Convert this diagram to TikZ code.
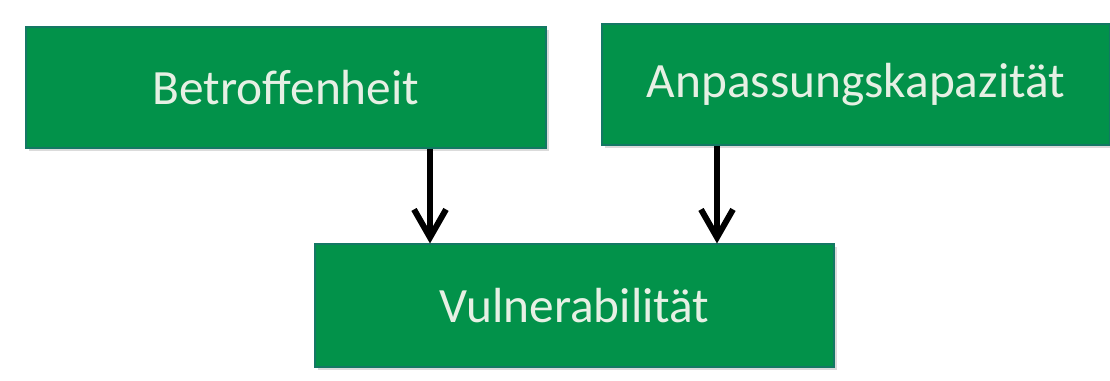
\documentclass[tikz,border=0pt]{standalone}
\usepackage{fontspec}
\setmainfont{Carlito}
\usetikzlibrary{arrows.meta}
\definecolor{boxgreen}{RGB}{2,146,74}
\definecolor{boxedge}{RGB}{20,120,100}
\definecolor{boxtext}{RGB}{230,240,228}
\tikzset{
  greenbox/.style={draw=boxedge, line width=0.8pt, fill=boxgreen, text=boxtext,
    inner sep=0pt, font=\fontsize{37}{42}\selectfont},
  flowarrow/.style={draw=black, line width=4.5pt,
    -{Straight Barb[length=21pt, width=24pt, line width=4.5pt]}}
}
\begin{document}
\begin{tikzpicture}[x=0.75pt,y=-0.75pt]
\useasboundingbox (0,0) rectangle (1110,380);
\fill[white] (0,0) rectangle (1110,380);
% shadows
\fill[black!14] (29,30) rectangle (549,151);
\fill[black!14] (605,27) rectangle (1113,148);
\fill[black!14] (318,247) rectangle (837,370);
\node[greenbox, minimum width=390pt, minimum height=90.75pt] (betr) at (286,87.5) {Betroffenheit};
\node[greenbox, minimum width=381pt, minimum height=90.75pt] (anp) at (856,84.5) {Anpassungskapazität};
\node[greenbox, minimum width=389.25pt, minimum height=92.25pt] (vul) at (574.5,305.5) {Vulnerabilität};
\draw[flowarrow] (betr.south -| 430,0) -- (vul.north -| 430,0);
\draw[flowarrow] (anp.south -| 717,0) -- (vul.north -| 717,0);
\end{tikzpicture}
\end{document}
